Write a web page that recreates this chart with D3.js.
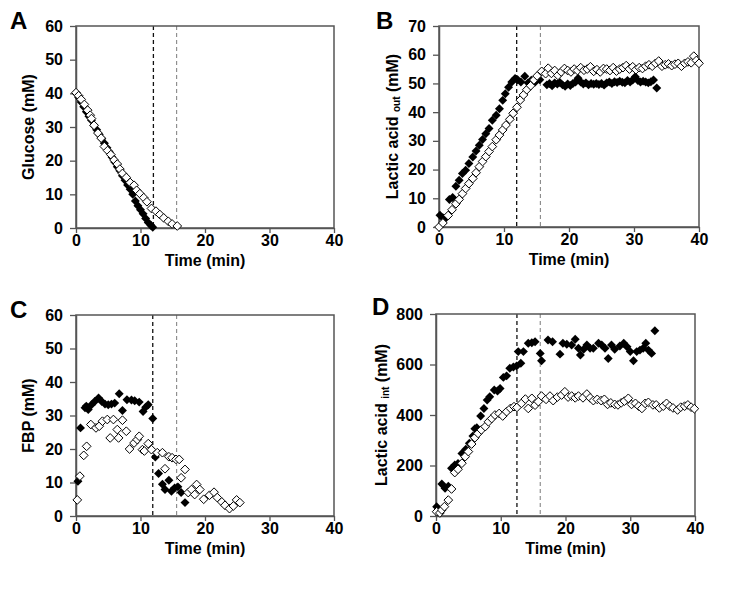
<!DOCTYPE html>
<html><head><meta charset="utf-8">
<script src="https://cdn.jsdelivr.net/npm/d3@7"></script>
<style>
body{margin:0;background:#fff}
svg{display:block}
text{font-family:"Liberation Sans",Arial,sans-serif;font-weight:bold;fill:#000}
</style>
</head><body><svg id="c" width="756" height="592"></svg>
<script>
// ---------------- DATA ----------------
const timeTicks = [0, 10, 20, 30, 40];
const glucoseTicks = [0, 10, 20, 30, 40, 50, 60];
const lacticOutTicks = [0, 10, 20, 30, 40, 50, 60, 70];
const fbpTicks = [0, 10, 20, 30, 40, 50, 60];
const lacticIntTicks = [0, 200, 400, 600, 800];

// vertical dashed marker times per panel (A, B, C, D)
const dashBlack = [12.0, 11.95, 11.9, 12.5];
const dashGray = [15.6, 15.6, 15.6, 16.1];

// Panel A: Glucose (mM)
const glucoseFilled = [[0,40],[0.4,38.8],[0.8,37.4],[1.2,36.0],[1.6,34.5],[2.0,33.2],[2.4,32.0],[2.8,30.4],[3.2,29.2],[3.6,27.8],[4.0,26.5],[4.4,25.2],[4.8,23.8],[5.2,22.5],[5.6,21.0],[6.0,19.6],[6.4,18.2],[6.8,17.0],[7.2,15.5],[7.6,14.2],[8.0,12.8],[8.4,11.5],[8.8,10.0],[9.2,8.0],[9.6,6.6],[10.0,5.4],[10.4,4.2],[10.8,2.8],[11.2,1.6],[11.6,0.8],[11.9,0.2]];
const glucoseOpen = [[0,40.2],[0.4,39.3],[0.8,38.2],[1.3,36.7],[1.8,35.0],[2.2,33.5],[2.4,32.5],[2.8,30.5],[3.4,28.2],[3.9,26.7],[4.4,24.2],[4.9,23.0],[5.4,21.8],[5.9,20.2],[6.4,19.0],[6.8,17.5],[7.2,16.2],[7.8,15.0],[8.4,13.5],[9.0,12.7],[9.4,11.2],[9.9,10.2],[10.5,9.0],[11.0,7.8],[11.7,5.8],[12.4,5.0],[13.0,4.0],[13.6,3.0],[14.3,2.0],[14.9,1.2],[15.7,0.6]];

// Panel B: Lactic acid out (mM)
const lacticOutFilled = [[0.15,4.1],[0.6,3.2],[0.9,2.8],[1.6,9.6],[2.1,10.3],[2.6,14.2],[3.1,16.3],[3.6,18.6],[4.1,19.8],[4.6,22.1],[5.2,24.4],[5.7,26.5],[6.2,28.5],[6.7,30.5],[7.2,32.5],[7.7,34.3],[8.2,37.2],[8.8,38.9],[9.3,41.2],[9.8,44.1],[10.2,46.4],[10.7,48.7],[11.2,50.5],[11.7,51.7],[12.1,51.3],[12.6,50.5],[13.2,52.5],[13.7,50.2],[14.2,51.1],[14.8,50.5],[15.5,51.3],[16.6,49.5],[17.0,50.0],[17.4,49.2],[17.8,50.2],[18.2,49.8],[18.6,50.3],[19.0,49.5],[19.4,49.0],[19.8,49.8],[20.2,49.3],[20.6,50.0],[21.0,50.5],[21.4,51.8],[21.8,50.5],[22.2,49.8],[22.6,50.2],[23.0,49.5],[23.4,50.0],[23.8,49.7],[24.2,50.0],[24.6,49.6],[25.0,50.0],[25.4,49.4],[25.8,50.2],[26.2,50.5],[26.6,50.0],[27.0,50.6],[27.4,50.3],[27.8,50.8],[28.2,50.4],[28.6,50.2],[29.0,51.0],[29.4,50.5],[29.8,51.2],[30.2,52.3],[30.6,51.0],[31.0,50.5],[31.4,50.8],[31.8,50.5],[32.2,50.2],[32.6,50.6],[33.0,51.2],[33.5,48.4]];
const lacticOutOpen = [[0,0],[0.6,1.4],[1.4,4.0],[2.0,6.0],[2.6,8.1],[3.1,9.6],[3.6,11.6],[4.1,13.4],[4.6,15.1],[5.2,16.9],[5.7,18.9],[6.2,21.0],[6.7,22.8],[7.2,24.5],[7.7,26.3],[8.2,28.0],[8.8,30.4],[9.3,32.0],[9.8,33.8],[10.3,35.5],[10.9,37.5],[11.4,39.6],[12.0,41.7],[12.5,44.2],[13.0,46.0],[13.5,47.8],[14.1,49.2],[14.6,51.2],[15.1,52.6],[15.8,54.2],[16.4,53.4],[16.8,55.3],[17.3,53.5],[17.8,54.5],[18.3,52.8],[18.8,54.0],[19.3,55.2],[19.8,54.5],[20.3,54.0],[20.8,55.0],[21.3,54.5],[21.8,55.5],[22.3,54.6],[22.8,55.0],[23.3,55.8],[23.8,54.2],[24.3,54.8],[24.8,54.0],[25.3,55.2],[25.8,55.0],[26.3,54.5],[26.8,55.5],[27.3,54.3],[27.8,55.0],[28.3,55.5],[28.8,56.2],[29.3,55.0],[29.8,55.8],[30.3,54.8],[30.8,55.5],[31.3,55.2],[31.8,56.0],[32.3,56.5],[32.8,56.0],[33.3,57.0],[33.8,57.8],[34.3,56.0],[34.8,56.5],[35.3,56.8],[35.8,56.2],[36.3,56.7],[36.8,57.0],[37.3,56.0],[37.8,57.0],[38.3,57.5],[38.8,57.2],[39.2,59.5],[39.6,58.0],[40.0,57.0]];

// Panel C: FBP (mM)
const fbpFilled = [[0.3,10.4],[0.7,26.3],[1.4,32.3],[1.6,32.8],[1.9,31.8],[2.4,33.2],[2.9,34.2],[3.5,35.2],[4.0,34.2],[4.5,33.4],[5.0,33.2],[5.5,33.4],[6.0,33.7],[6.7,36.5],[7.2,31.5],[7.9,34.7],[8.6,34.6],[9.1,34.4],[9.8,34.0],[10.4,31.2],[10.8,32.5],[11.2,33.2],[11.9,29.1],[12.3,17.6],[12.8,12.7],[13.4,9.5],[13.8,7.9],[14.4,10.7],[14.8,7.4],[15.3,8.4],[15.8,8.7],[16.3,7.0],[16.9,4.0]];
const fbpOpen = [[0.2,4.8],[0.6,11.9],[1.2,18.1],[1.65,20.8],[2.3,27.3],[3.1,26.3],[3.6,26.8],[4.1,28.3],[4.85,28.8],[5.3,23.3],[5.8,28.8],[6.4,25.8],[6.6,23.3],[7.2,28.6],[7.8,25.3],[8.3,20.0],[9.0,21.8],[9.5,22.8],[9.8,23.8],[10.3,19.8],[10.6,19.4],[11.2,21.6],[11.7,19.8],[12.6,18.9],[13.4,18.9],[13.8,14.1],[14.4,17.7],[14.9,17.4],[15.5,16.9],[16.0,16.9],[16.3,11.4],[16.9,13.9],[17.4,7.0],[17.9,7.9],[18.4,6.4],[18.7,9.4],[19.2,7.9],[19.8,5.0],[20.7,6.2],[21.4,7.1],[21.9,5.5],[22.6,4.2],[23.1,3.2],[23.8,2.2],[24.4,3.0],[24.9,4.8],[25.4,4.0]];

// Panel D: Lactic acid int (mM)
const lacticIntFilled = [[0.1,37],[0.9,127],[1.4,110],[1.9,118],[2.4,189],[2.9,202],[3.4,208],[4.0,248],[4.6,264],[5.15,288],[5.7,317],[6.0,346],[6.3,350],[6.9,396],[7.4,426],[7.9,459],[8.3,472],[9.0,499],[9.5,495],[9.9,505],[10.4,549],[10.9,555],[11.4,585],[11.95,590],[12.45,594],[12.7,651],[13.5,651],[13.1,605],[14.25,684],[14.8,686],[15.3,690],[16.1,644],[16.3,615],[17.3,697],[18.0,690],[19.15,641],[19.6,684],[20.2,680],[20.95,677],[21.5,700],[22.0,664],[22.3,638],[22.8,660],[23.3,677],[23.8,664],[24.3,664],[25.1,684],[25.6,677],[26.1,664],[26.6,624],[27.1,677],[27.6,660],[28.4,673],[29.0,684],[29.5,670],[30.0,651],[30.5,615],[31.0,651],[31.5,657],[32.0,664],[32.4,684],[32.8,657],[33.3,644],[33.8,734]];
const lacticIntOpen = [[0.1,17],[0.6,12],[0.9,24],[1.3,37],[1.9,63],[2.4,107],[2.9,172],[3.4,185],[4.0,209],[4.5,235],[5.0,255],[5.5,285],[6.0,310],[6.5,327],[7.0,341],[7.6,354],[8.1,373],[8.6,386],[9.1,400],[9.75,406],[10.3,396],[10.9,413],[11.5,426],[12.05,433],[12.5,430],[13.2,446],[13.8,463],[14.25,426],[14.8,466],[15.3,439],[15.8,453],[16.3,475],[17.0,462],[17.6,475],[18.1,457],[18.75,471],[19.4,479],[19.9,492],[20.4,471],[20.95,475],[21.5,468],[22.0,475],[22.7,468],[23.3,483],[23.8,468],[24.3,457],[24.9,462],[25.5,457],[26.0,462],[26.5,442],[27.0,448],[27.6,442],[28.1,440],[28.6,448],[29.1,455],[29.7,466],[30.2,442],[30.8,446],[31.3,435],[31.8,426],[32.3,446],[32.8,450],[33.5,440],[34.0,440],[34.5,428],[35.1,435],[35.6,446],[36.1,435],[36.6,428],[37.3,420],[37.8,431],[38.4,435],[38.9,440],[39.4,431],[39.9,425]];

// ---------------- DRAW ----------------
const svg = d3.select('#c');
svg.append('rect').attr('width', 756).attr('height', 592).attr('fill', '#fff');

const diamondType = {
  draw(ctx, size) {
    const r = Math.sqrt(size / 2);
    ctx.moveTo(0, -r); ctx.lineTo(r, 0); ctx.lineTo(0, r); ctx.lineTo(-r, 0); ctx.closePath();
  }
};

const panels = [
  {letter: 'A', lx: 10, ly: 29, box: [76, 26, 334, 228], yMax: 60, ticks: glucoseTicks, tx: 34,
   title: [['Glucose (mM)', 0]], filled: glucoseFilled, open: glucoseOpen, i: 0},
  {letter: 'B', lx: 376, ly: 29, box: [439, 26, 699, 227], yMax: 70, ticks: lacticOutTicks, tx: 398,
   title: [['Lactic acid ', 0], ['out', 1], [' (mM)', 0]], filled: lacticOutFilled, open: lacticOutOpen, i: 1},
  {letter: 'C', lx: 10, ly: 318, box: [76, 315, 334, 516], yMax: 60, ticks: fbpTicks, tx: 34,
   title: [['FBP (mM)', 0]], filled: fbpFilled, open: fbpOpen, i: 2},
  {letter: 'D', lx: 372, ly: 315, box: [436, 314, 695, 516], yMax: 800, ticks: lacticIntTicks, tx: 387,
   title: [['Lactic acid ', 0], ['int', 1], [' (mM)', 0]], filled: lacticIntFilled, open: lacticIntOpen, i: 3}
];

panels.forEach(p => {
  const [x0, y0, x1, y1] = p.box;
  const x = d3.scaleLinear().domain([0, 40]).range([x0, x1]);
  const y = d3.scaleLinear().domain([0, p.yMax]).range([y1, y0]);
  const g = svg.append('g');

  // dashed lines
  g.append('line').attr('x1', x(dashBlack[p.i])).attr('x2', x(dashBlack[p.i]))
    .attr('y1', y0).attr('y2', y1).attr('stroke', '#111').attr('stroke-width', 1.3)
    .attr('stroke-dasharray', '4,3');
  g.append('line').attr('x1', x(dashGray[p.i])).attr('x2', x(dashGray[p.i]))
    .attr('y1', y0).attr('y2', y1).attr('stroke', '#888').attr('stroke-width', 1.1)
    .attr('stroke-dasharray', '4,3');

  // frame
  g.append('rect').attr('x', x0).attr('y', y0).attr('width', x1 - x0).attr('height', y1 - y0)
    .attr('fill', 'none').attr('stroke', '#555').attr('stroke-width', 1.5);

  // axes
  const ya = g.append('g').attr('transform', `translate(${x0},0)`)
    .call(d3.axisLeft(y).tickValues(p.ticks).tickSize(6).tickPadding(7).tickSizeOuter(0));
  const xa = g.append('g').attr('transform', `translate(0,${y1})`)
    .call(d3.axisBottom(x).tickValues(timeTicks).tickSize(5).tickPadding(2).tickSizeOuter(0));
  [ya, xa].forEach(a => {
    a.select('.domain').attr('stroke', '#555').attr('stroke-width', 1.5);
    a.selectAll('.tick line').attr('stroke', '#555').attr('stroke-width', 1.3);
    a.selectAll('.tick text').attr('font-size', 16).attr('font-weight', 'bold')
      .attr('font-family', '"Liberation Sans",Arial,sans-serif').attr('fill', '#000');
  });

  // x title
  g.append('text').attr('x', (x0 + x1) / 2).attr('y', y1 + 38).attr('text-anchor', 'middle')
    .attr('font-size', 16).text('Time (min)');

  // y title
  const yt = g.append('text').attr('transform', `translate(${p.tx},${(y0 + y1) / 2}) rotate(-90)`)
    .attr('text-anchor', 'middle').attr('font-size', 16);
  p.title.forEach(([t, sub], k) => {
    const ts = yt.append('tspan').text(t);
    if (sub) ts.attr('font-size', 10).attr('dy', 2);
    else if (k > 0 && p.title[k - 1][1]) ts.attr('dy', -2);
  });

  // panel letter
  g.append('text').attr('x', p.lx).attr('y', p.ly).attr('font-size', 24).text(p.letter);

  // markers
  const sym = d3.symbol().type(diamondType);
  g.append('g').selectAll('path').data(p.filled).join('path')
    .attr('d', sym.size(40)())
    .attr('transform', d => `translate(${x(d[0])},${y(d[1])})`)
    .attr('fill', '#000');
  g.append('g').selectAll('path').data(p.open).join('path')
    .attr('d', sym.size(38)())
    .attr('transform', d => `translate(${x(d[0])},${y(d[1])})`)
    .attr('fill', '#fff').attr('stroke', '#000').attr('stroke-width', 1);
});
</script>
</body></html>
